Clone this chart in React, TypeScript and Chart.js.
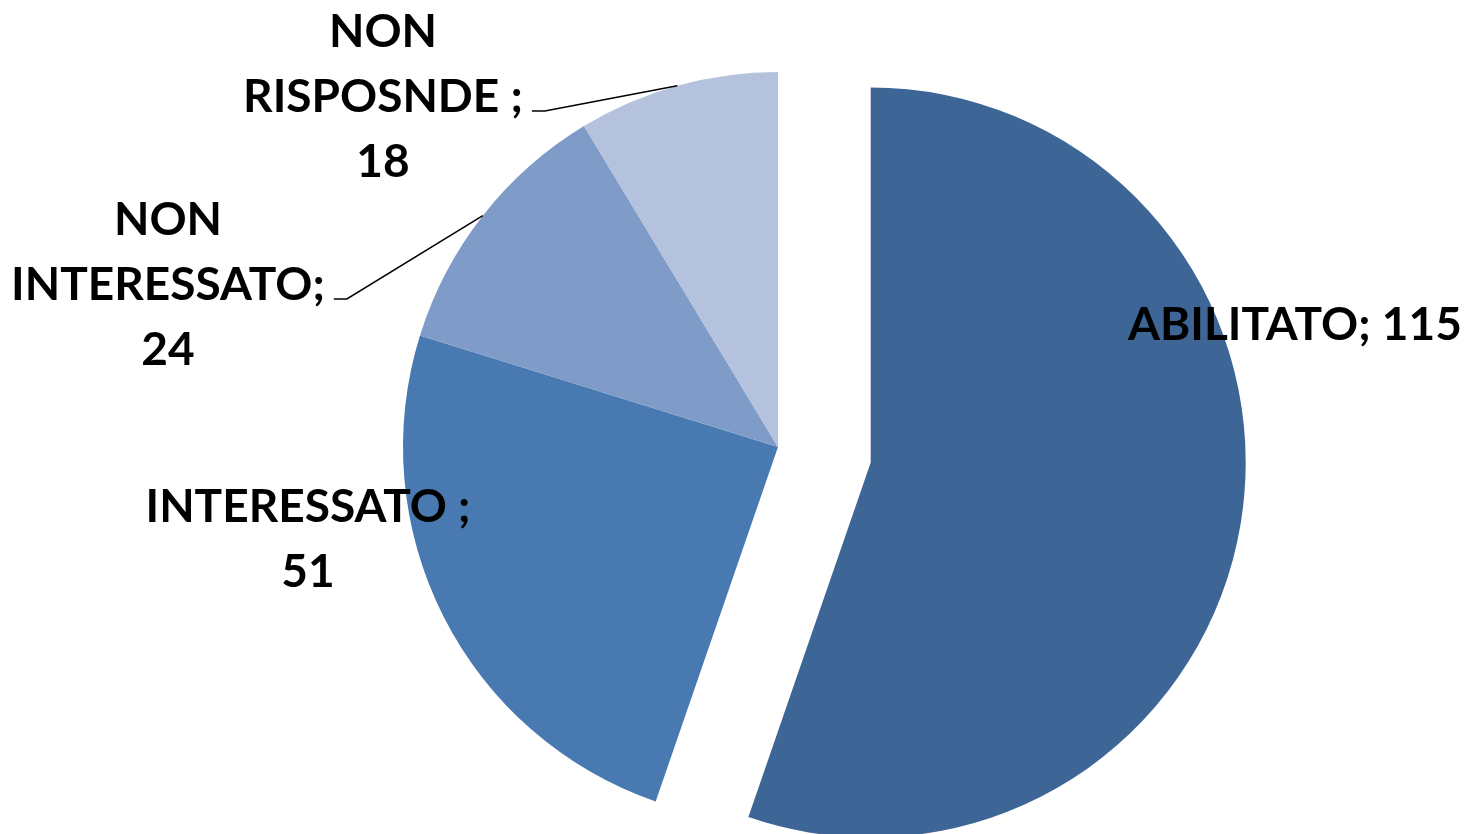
import React, { useEffect, useRef } from "react";
import { Chart, registerables, PieController } from "chart.js";

Chart.register(...registerables);

const categories = ["ABILITATO", "INTERESSATO", "NON INTERESSATO", "NON RISPOSNDE"];
const values = [115, 51, 24, 18];
const colors = ["#3D6697", "#4879B0", "#7F9CC8", "#B4C2DE"];
const explode = [94, 0, 0, 0];

const labelLines: string[][] = [
  [`${categories[0]}; ${values[0]}`],
  [`${categories[1]} ;`, `${values[1]}`],
  ["NON", "INTERESSATO;", `${values[2]}`],
  ["NON", "RISPOSNDE ;", `${values[3]}`],
];

// label block placement relative to the pie centre: [dx of centre, dy of first baseline]
const labelPlacement = [
  [517, -107],
  [-470, 75],
  [-610, -212],
  [-395, -400],
];
const hasLeader = [false, false, true, true];

const FONT = "bold 46px Lato";
const LINE_H = 65;

// Pie whose slices can be pulled out by a fixed distance (Excel-style explode),
// keeping the slice radius and angles unchanged.
class ExplodedPieController extends (PieController as any) {
  static id = "explodedPie";
  static defaults = (PieController as any).defaults;
  static overrides = (PieController as any).overrides;
  draw() {
    const ctx = this.chart.ctx;
    const area = this.chart.chartArea;
    const meta = this._cachedMeta;
    meta.data.forEach((arc: any, i: number) => {
      if (arc.hidden) return;
      const e = explode[i] || 0;
      const mid = (arc.startAngle + arc.endAngle) / 2;
      ctx.save();
      ctx.translate(Math.cos(mid) * e, Math.sin(mid) * e);
      arc.draw(ctx, area);
      ctx.restore();
    });
  }
}
Chart.register(ExplodedPieController as any);

const labelPlugin = {
  id: "pieLabels",
  afterDatasetsDraw(chart: any) {
    const ctx = chart.ctx;
    const meta = chart.getDatasetMeta(0);
    ctx.save();
    ctx.font = FONT;
    ctx.fillStyle = "#000";
    ctx.textAlign = "center";
    ctx.textBaseline = "alphabetic";
    meta.data.forEach((arc: any, i: number) => {
      const p = arc.getProps(["x", "y", "startAngle", "endAngle", "outerRadius"], true);
      const cx = p.x + labelPlacement[i][0];
      const by = p.y + labelPlacement[i][1];
      const lines = labelLines[i];
      lines.forEach((t, k) => ctx.fillText(t, cx, by + k * LINE_H));
      if (hasLeader[i]) {
        const mid = (p.startAngle + p.endAngle) / 2;
        const ex = p.x + Math.cos(mid) * p.outerRadius;
        const ey = p.y + Math.sin(mid) * p.outerRadius;
        const w = ctx.measureText(lines[1]).width;
        const sx = cx + w / 2 + 9;
        const sy = by + LINE_H - 1;
        ctx.beginPath();
        ctx.strokeStyle = "#000";
        ctx.lineWidth = 1.5;
        ctx.moveTo(sx, sy);
        ctx.lineTo(sx + 13, sy);
        ctx.lineTo(ex, ey);
        ctx.stroke();
      }
    });
    ctx.restore();
  },
};

export default function App() {
  const ref = useRef<HTMLCanvasElement>(null);
  useEffect(() => {
    const chart = new Chart(ref.current!, {
      type: "explodedPie" as any,
      data: {
        labels: categories,
        datasets: [
          {
            data: values,
            backgroundColor: colors,
            borderWidth: 0,
            clip: false as any,
          },
        ],
      },
      options: {
        animation: false,
        responsive: true,
        maintainAspectRatio: false,
        radius: 375,
        layout: { padding: { left: 86, top: 60, right: 0, bottom: 0 } },
        plugins: { legend: { display: false }, tooltip: { enabled: false } },
      } as any,
      plugins: [labelPlugin],
    });
    return () => chart.destroy();
  }, []);
  return (
    <div style={{ position: "fixed", left: 0, top: 0, width: 1470, height: 834, background: "#fff" }}>
      <canvas ref={ref} />
    </div>
  );
}
